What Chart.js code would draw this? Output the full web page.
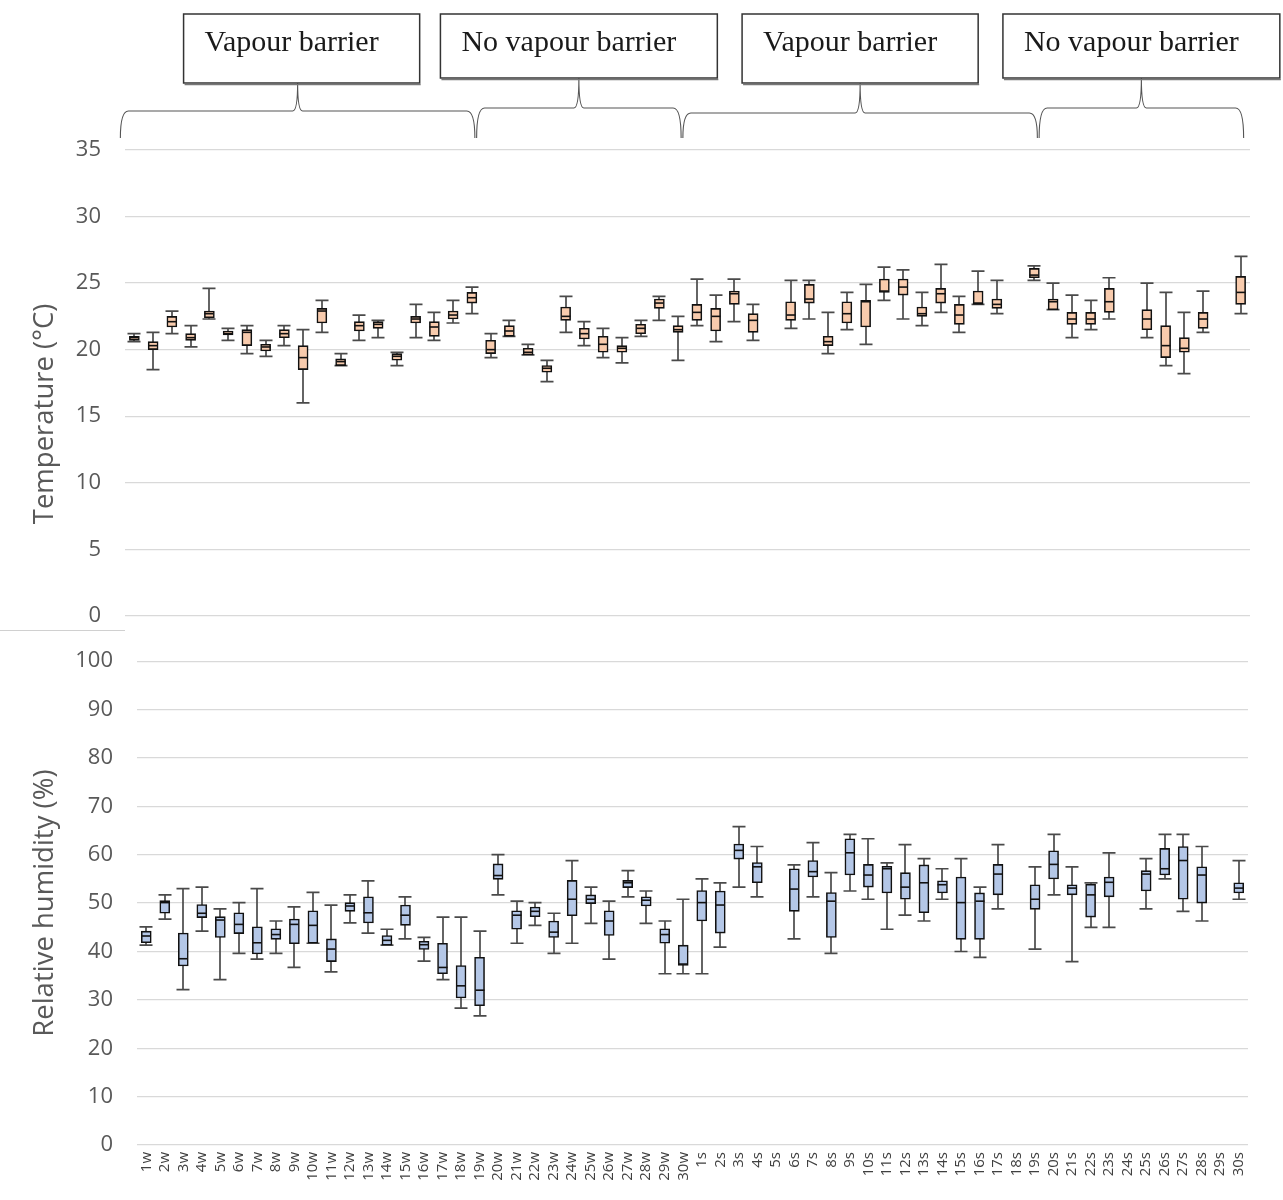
<!DOCTYPE html>
<html>
<head>
<meta charset="utf-8">
<script src="https://cdn.jsdelivr.net/npm/chart.js@4.4.0/dist/chart.umd.min.js"></script>
<style>
  body { margin: 0; background: #fff; }
  #wrap { position: relative; width: 1283px; height: 1200px; }
  #humChart { position: absolute; left: 0; top: 624px; }
  #tempChart { position: absolute; left: 0; top: 0; }
  #sep { position: absolute; left: 0; top: 630px; width: 125px; border-top: 1px solid #d0d0d0; }
</style>
</head>
<body>
<div id="wrap">
  <canvas id="humChart" width="1283" height="576"></canvas>
  <canvas id="tempChart" width="1283" height="653"></canvas>
  <div id="sep"></div>
</div>
<script>
var categories = ["1w","2w","3w","4w","5w","6w","7w","8w","9w","10w","11w","12w","13w","14w","15w",
    "16w","17w","18w","19w","20w","21w","22w","23w","24w","25w","26w","27w","28w","29w","30w",
    "1s","2s","3s","4s","5s","6s","7s","8s","9s","10s","11s","12s","13s","14s","15s",
    "16s","17s","18s","19s","20s","21s","22s","23s","24s","25s","26s","27s","28s","29s","30s"];

var groupLabels = ["Vapour barrier", "No vapour barrier", "Vapour barrier", "No vapour barrier"];
var groupFirst = ["1w", "20w", "1s", "20s"];
var groupLast = ["19w", "30w", "19s", "30s"];

// temperature (°C)
var tempMax = [21.2,21.3,22.9,21.8,24.6,21.6,21.8,20.7,21.8,21.5,23.7,19.7,22.6,22.2,19.8,
    23.4,22.8,23.7,24.7,21.2,22.2,20.4,19.2,24.0,22.1,21.6,20.9,22.2,24.0,22.5,
    25.3,24.1,25.3,23.4,null,25.2,25.2,22.8,24.3,24.9,26.2,26.0,24.3,26.4,24.0,
    25.9,25.2,null,26.3,25.0,24.1,23.7,25.4,null,25.0,24.3,22.8,24.4,null,27.0];
var tempQ3 = [21.0,20.6,22.5,21.2,22.9,21.4,21.5,20.4,21.5,20.3,23.1,19.3,22.1,22.1,19.7,
    22.5,22.1,22.9,24.3,20.7,21.8,20.1,18.8,23.2,21.6,21.0,20.3,21.9,23.8,21.8,
    23.4,23.1,24.4,22.7,null,23.6,24.9,21.0,23.6,23.7,25.3,25.3,23.2,24.6,23.4,
    24.4,23.8,null,26.1,23.8,22.8,22.8,24.6,null,23.0,21.8,20.9,22.8,null,25.5];
var tempMed = [20.9,20.3,22.1,20.9,22.7,21.2,21.3,20.2,21.2,19.4,22.9,19.1,21.8,21.9,19.5,
    22.3,21.7,22.6,23.9,20.0,21.4,19.8,18.6,22.5,21.2,20.4,20.1,21.6,23.5,21.5,
    22.8,22.5,24.2,22.2,null,22.6,23.8,20.6,22.7,23.6,24.4,24.7,22.7,24.2,22.6,
    23.5,23.4,null,25.6,23.6,22.3,22.3,23.6,null,22.3,20.3,20.1,22.3,null,24.3];
var tempQ1 = [20.7,20.0,21.7,20.7,22.4,21.1,20.3,19.9,20.9,18.5,22.0,18.8,21.4,21.6,19.2,
    22.0,21.0,22.3,23.5,19.7,21.0,19.6,18.3,22.2,20.8,19.8,19.8,21.2,23.1,21.3,
    22.2,21.4,23.4,21.3,null,22.2,23.5,20.3,22.0,21.7,24.3,24.1,22.5,23.5,21.9,
    23.4,23.1,null,25.4,23.0,21.9,21.9,22.8,null,21.5,19.4,19.8,21.6,null,23.4];
var tempMin = [20.6,18.5,21.2,20.2,22.3,20.7,19.7,19.5,20.3,16.0,21.3,18.8,20.7,20.9,18.8,
    20.9,20.7,22.0,22.7,19.4,21.0,19.6,17.6,21.3,20.3,19.4,19.0,21.0,22.2,19.2,
    21.8,20.6,22.1,20.7,null,21.6,22.3,19.7,21.5,20.4,23.7,22.3,21.8,22.8,21.3,
    23.4,22.7,null,25.2,23.0,20.9,21.5,22.3,null,20.9,18.8,18.2,21.3,null,22.7];

// relative humidity (%)
var humMax = [45.1,51.7,53.0,53.3,48.8,50.1,53.0,46.3,49.2,52.2,49.6,51.7,54.6,44.6,51.3,
    42.9,47.1,47.1,44.2,60.0,50.4,50.1,47.9,58.8,53.3,50.4,56.7,52.5,46.3,50.8,
    55.0,54.2,65.8,61.7,null,57.9,62.5,56.3,64.2,63.3,58.3,62.1,59.2,57.1,59.2,
    53.3,62.1,null,57.5,64.2,57.5,54.2,60.4,null,59.2,64.2,64.2,61.7,null,58.8];
var humQ3 = [44.2,50.5,43.8,49.7,47.2,48.0,45.1,44.7,46.7,48.4,42.6,50.1,51.3,43.3,49.6,
    42.1,41.7,37.1,38.8,58.1,48.4,49.2,46.3,54.7,51.7,48.4,54.7,51.3,44.7,41.3,
    52.6,52.5,62.2,58.4,null,57.1,58.8,52.2,63.3,58.0,57.6,56.3,57.9,54.6,55.4,
    52.1,58.0,null,53.8,60.8,53.8,53.9,55.4,null,56.7,61.3,61.7,57.5,null,54.2];
var humMed = [43.2,50.1,38.5,47.9,46.5,45.6,41.8,43.5,45.6,45.4,40.5,49.4,48.0,42.3,47.5,
    41.4,36.7,32.9,32.0,55.7,47.5,48.3,44.0,50.8,50.8,46.3,54.2,50.6,43.5,37.4,
    50.1,49.6,60.9,57.5,null,52.9,56.5,50.4,60.4,55.8,57.1,53.3,54.2,53.8,50.1,
    50.4,56.0,null,50.8,58.0,53.1,51.7,54.3,null,56.0,57.1,58.8,55.8,null,53.1];
var humQ1 = [41.8,47.9,37.0,47.0,42.9,43.7,39.5,42.5,41.6,41.7,37.9,48.3,45.9,41.3,45.4,
    40.4,35.4,30.4,28.8,54.9,44.6,47.2,42.9,47.4,49.9,43.3,53.2,49.4,41.7,37.1,
    46.3,43.8,59.1,54.2,null,48.3,55.4,42.9,55.8,53.3,52.1,50.8,48.0,52.1,42.5,
    42.5,51.7,null,48.7,55.0,51.7,47.1,51.3,null,52.5,55.8,50.8,50.0,null,52.1];
var humMin = [41.3,46.7,32.1,44.2,34.2,39.6,38.4,39.6,36.7,41.7,35.8,45.9,43.8,41.3,42.6,
    38.0,34.2,28.3,26.7,51.7,41.7,45.4,39.6,41.7,45.8,38.4,51.3,45.8,35.4,35.4,
    35.4,40.9,53.3,51.3,null,42.6,51.3,39.6,52.5,50.8,44.6,47.5,46.3,50.8,40.0,
    38.8,48.8,null,40.5,51.7,37.9,45.0,45.0,null,48.8,55.0,48.3,46.3,null,50.8];

var FONT = "'Open Sans', 'Liberation Sans', sans-serif";
var GRID = "#d9d9d9";
var AXIS_GREY = "#595959";

function boxRange(q1, q3) {
    return q1.map(function (v, i) { return v == null ? null : [v, q3[i]]; });
}

// whiskers behind the boxes, medians on top
var whiskerPlugin = {
    id: "whiskers",
    beforeDatasetsDraw: function (chart) {
        var ds = chart.data.datasets[0];
        var x = chart.scales.x, y = chart.scales.y, ctx = chart.ctx;
        ctx.save();
        ctx.strokeStyle = "#4a4a4a";
        ctx.lineWidth = 1.7;
        ds.whiskerMax.forEach(function (hi, i) {
            if (hi == null) return;
            var px = Math.round(x.getPixelForValue(i));
            var top = y.getPixelForValue(hi);
            var bot = y.getPixelForValue(ds.whiskerMin[i]);
            ctx.beginPath();
            ctx.moveTo(px, top); ctx.lineTo(px, bot);
            ctx.moveTo(px - 6.5, top); ctx.lineTo(px + 6.5, top);
            ctx.moveTo(px - 6.5, bot); ctx.lineTo(px + 6.5, bot);
            ctx.stroke();
        });
        ctx.restore();
    },
    afterDatasetsDraw: function (chart) {
        var ds = chart.data.datasets[0];
        var x = chart.scales.x, y = chart.scales.y, ctx = chart.ctx;
        ctx.save();
        ctx.strokeStyle = "#111";
        ctx.lineWidth = 1.6;
        ds.median.forEach(function (m, i) {
            if (m == null) return;
            var px = Math.round(x.getPixelForValue(i));
            var py = y.getPixelForValue(m);
            ctx.beginPath();
            ctx.moveTo(px - 4.5, py); ctx.lineTo(px + 4.5, py);
            ctx.stroke();
        });
        ctx.restore();
    }
};

// group boxes and braces above the temperature panel, plus its axis title
var headerPlugin = {
    id: "header",
    afterDraw: function (chart) {
        var x = chart.scales.x, ctx = chart.ctx, area = chart.chartArea;
        var tipY = [83, 78, 83, 78];
        var lineY = [111, 108, 113, 108];
        ctx.save();
        groupLabels.forEach(function (label, g) {
            var left = x.getPixelForValue(categories.indexOf(groupFirst[g])) - 14;
            var right = x.getPixelForValue(categories.indexOf(groupLast[g])) + 3;
            var mid = (left + right) / 2;
            var hy = lineY[g], endY = 138;
            ctx.strokeStyle = "#555";
            ctx.lineWidth = 1.1;
            ctx.beginPath();
            ctx.moveTo(left, endY);
            ctx.quadraticCurveTo(left, hy, left + 8, hy);
            ctx.lineTo(mid - 5, hy);
            ctx.quadraticCurveTo(mid, hy, mid, tipY[g]);
            ctx.quadraticCurveTo(mid, hy, mid + 5, hy);
            ctx.lineTo(right - 8, hy);
            ctx.quadraticCurveTo(right, hy, right, endY);
            ctx.stroke();

            ctx.font = "30px 'Liberation Serif', 'DejaVu Serif', serif";
            var w = ctx.measureText(label).width + 62;
            var bx = mid - w / 2 + (g === 0 ? 4 : 0), by = 14, bh = tipY[g] - 14;
            ctx.fillStyle = "#fff";
            ctx.fillRect(bx, by, w, bh);
            ctx.strokeStyle = "#333";
            ctx.lineWidth = 1.5;
            ctx.strokeRect(bx, by, w, bh);
            ctx.strokeStyle = "#777";
            ctx.beginPath();
            ctx.moveTo(bx + 1, by + bh + 1.5); ctx.lineTo(bx + w + 1, by + bh + 1.5);
            ctx.stroke();
            ctx.fillStyle = "#1a1a1a";
            ctx.textAlign = "left";
            ctx.textBaseline = "middle";
            ctx.fillText(label, bx + 21, 43);
        });

        // y title sits a little below the panel centre in the original
        ctx.translate(45, (area.top + area.bottom) / 2 + 31);
        ctx.rotate(-Math.PI / 2);
        ctx.font = "27.5px " + FONT;
        ctx.fillStyle = AXIS_GREY;
        ctx.textAlign = "center";
        ctx.textBaseline = "middle";
        ctx.fillText("Temperature (°C)", 0, 0);
        ctx.restore();
    }
};

// category labels rotated to read bottom-to-top
var xLabelPlugin = {
    id: "xlabels",
    afterDraw: function (chart) {
        var x = chart.scales.x, ctx = chart.ctx;
        ctx.save();
        ctx.font = "15px " + FONT;
        ctx.fillStyle = "#404040";
        ctx.textAlign = "right";
        ctx.textBaseline = "middle";
        categories.forEach(function (c, i) {
            ctx.save();
            ctx.translate(x.getPixelForValue(i), x.top + 7);
            ctx.rotate(-Math.PI / 2);
            ctx.fillText(c, 0, 0);
            ctx.restore();
        });
        ctx.restore();
    }
};

function yAxis(max, step, title, width) {
    return {
        min: 0, max: max,
        afterFit: function (s) { s.width = width; },
        ticks: { stepSize: step, color: AXIS_GREY, padding: 24, font: { family: FONT, size: 22 } },
        grid: { color: GRID, lineWidth: 1.3, drawTicks: false },
        border: { display: false },
        title: { display: title !== "", text: title, color: AXIS_GREY, font: { family: FONT, size: 27.5 } }
    };
}

new Chart("tempChart", {
    type: "bar",
    data: {
        labels: categories,
        datasets: [{
            data: boxRange(tempQ1, tempQ3),
            whiskerMax: tempMax,
            whiskerMin: tempMin,
            median: tempMed,
            backgroundColor: "#f8cbad",
            borderColor: "#111",
            borderWidth: 1.6,
            borderSkipped: false,
            barThickness: 10
        }]
    },
    options: {
        responsive: false,
        animation: false,
        layout: { padding: { left: 25, top: 150, right: 33, bottom: 0 } },
        plugins: { legend: { display: false }, tooltip: { enabled: false } },
        scales: {
            x: { display: false },
            y: yAxis(35, 5, "", 100)
        }
    },
    plugins: [whiskerPlugin, headerPlugin]
});

new Chart("humChart", {
    type: "bar",
    data: {
        labels: categories,
        datasets: [{
            data: boxRange(humQ1, humQ3),
            whiskerMax: humMax,
            whiskerMin: humMin,
            median: humMed,
            backgroundColor: "#b4c7e7",
            borderColor: "#111",
            borderWidth: 1.6,
            borderSkipped: false,
            barThickness: 10
        }]
    },
    options: {
        responsive: false,
        animation: false,
        layout: { padding: { left: 25, top: 20, right: 35, bottom: 0 } },
        plugins: { legend: { display: false }, tooltip: { enabled: false } },
        scales: {
            x: {
                afterFit: function (s) { s.height = 55; },
                ticks: { display: false },
                grid: { display: false },
                border: { display: false }
            },
            y: yAxis(100, 10, "Relative humidity (%)", 112)
        }
    },
    plugins: [whiskerPlugin, xLabelPlugin]
});
</script>
</body>
</html>
